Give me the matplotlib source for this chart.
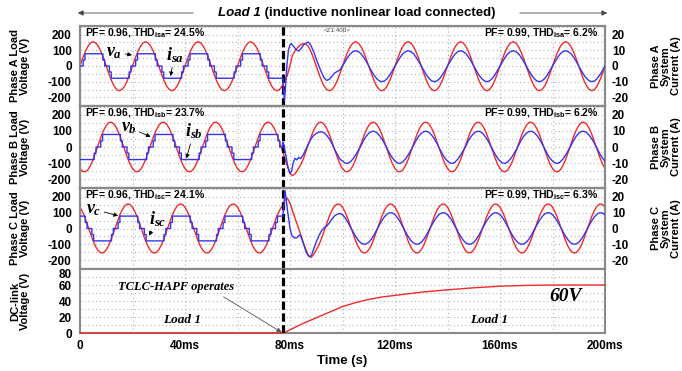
import numpy as np
import matplotlib
matplotlib.use("Agg")
import matplotlib.pyplot as plt
from matplotlib.ticker import MultipleLocator
from matplotlib.transforms import ScaledTranslation

plt.rcParams.update({
    "font.family": "Liberation Sans",
    "font.weight": "bold",
    "axes.unicode_minus": False,
    "mathtext.fontset": "custom",
    "mathtext.rm": "Liberation Sans:bold",
    "mathtext.bf": "Liberation Sans:bold",
    "mathtext.it": "Liberation Serif:italic:bold",
})

# ---------------- data (time in ms) ----------------
EVENT_MS = 77.5          # TCLC-HAPF switched on (dashed line)

# load voltages: one 50 Hz cycle sampled every 1 ms (V)
va_cycle = [0, 48, 91, 125, 147, 155, 147, 125, 91, 48, 0, -49, -93, -128, -150, -158, -150, -128, -93, -49]
vb_cycle = [-134, -152, -154, -142, -115, -78, -32, 16, 63, 104, 134, 152, 154, 142, 115, 78, 32, -16, -63, -104]
vc_cycle = [134, 104, 63, 16, -32, -78, -115, -142, -154, -152, -134, -104, -63, -16, 32, 78, 115, 142, 154, 152]

# voltages during the switching transient, 78..99 ms
va_trans = [-93, -60, 5, 70, 100, 120, 135, 142, 140, 125, 91, 48, 0, -49, -93, -128, -150, -158, -150, -128, -93, -49]
vb_trans = [-70, -120, -165, -178, -165, -140, -112, -78, -32, 16, 63, 104, 134, 152, 154, 142, 115, 78, 32, -16, -63, -104]
vc_trans = [175, 190, 160, 110, 60, 15, -35, -85, -130, -170, -182, -165, -134, -104, -63, -16, 32, 78, 115, 142, 154, 152]

# source currents before compensation: stepped waveform breakpoints in one cycle (ms, A)
isa_step_t = [0, 1.2, 1.9, 8.7, 9.4, 11.2, 11.9, 18.7, 19.4]
isa_step_v = [0, 3.8, 7.8, 3.8, 0, -3.8, -7.8, -3.8, 0]
isb_step_t = [0, 5.4, 6.1, 7.9, 8.6, 15.4, 16.1, 17.9, 18.6]
isb_step_v = [-7.8, -3.8, 0, 3.8, 7.8, 3.8, 0, -3.8, -7.8]
isc_step_t = [0, 2.0, 2.7, 4.5, 5.2, 12.0, 12.7, 14.5, 15.2]
isc_step_v = [7.8, 3.8, 0, -3.8, -7.8, -3.8, 0, 3.8, 7.8]

# source currents during the transient (ms, A)
isa_tr_t = [77.3, 77.6, 77.9, 78.3, 78.8, 79.4, 80.0, 80.6, 81.4, 82.3, 83.2, 84.2, 85.2, 86.2,
            87.0, 88.0, 89.0, 90.0, 91.0, 92.0, 93.0, 94.0, 95.0, 96.0, 97.0, 98.0, 99.0]
isa_tr_v = [-8.5, -15.0, -22.0, -13.0, 0.0, 10.0, 13.5, 14.2, 12.5, 10.5, 9.5, 11.0, 13.5, 14.8,
            15.2, 13.0, 9.0, 4.5, 0.0, -4.0, -7.5, -9.2, -8.5, -6.5, -4.5, -3.5, -2.5]
isb_tr_t = [77.3, 77.8, 78.5, 79.3, 80.0, 80.6, 81.2, 81.9, 82.6, 83.3, 84.0, 85.0, 86.0,
            87.0, 88.0, 89.0, 90.0, 91.0, 92.0, 93.0, 94.0, 95.0, 96.0, 97.0, 98.0, 99.0]
isb_tr_v = [3.0, 0.0, -6.0, -13.0, -16.5, -15.0, -10.0, -7.0, -8.0, -6.5, -7.2, -5.0, -1.5,
            2.0, 5.0, 7.2, 8.5, 9.2, 9.5, 8.8, 7.2, 5.0, 2.0, -1.5, -4.5, -7.5]
isc_tr_t = [77.3, 77.7, 78.1, 78.5, 79.0, 79.5, 80.0, 80.6, 81.3, 82.0, 82.7, 83.3, 83.9, 84.6, 85.4,
            86.2, 87.0, 87.6, 88.3, 89.0, 90.0, 91.0, 92.0, 93.0, 94.0, 95.0, 96.0, 97.0, 98.0, 99.0]
isc_tr_v = [8.5, 15.0, 24.0, 19.0, 12.0, 6.0, 0.0, -4.0, -5.5, -6.0, -5.8, -4.5, -4.0, -7.0, -11.0,
            -15.0, -17.2, -17.8, -16.5, -13.0, -8.5, -4.5, -1.5, 0.5, 1.5, 3.5, 6.0, 8.0, 9.0, 9.5]

# compensated source currents: one cycle every 1 ms from 100 ms on (A)
isa_post = [0.0, 2.8, 5.6, 7.8, 9.2, 9.7, 9.2, 7.9, 5.7, 3.0, 0.0, -3.0, -5.8, -8.0, -9.5, -10.0, -9.5, -8.0, -5.8, -3.0]
isb_post = [-8.8, -10.0, -10.2, -9.2, -7.4, -5.0, -2.2, 0.8, 4.0, 6.6, 8.5, 9.6, 9.8, 9.0, 7.3, 5.0, 2.2, -1.0, -4.2, -6.8]
isc_post = [8.7, 6.7, 4.1, 1.0, -2.1, -5.0, -7.4, -9.1, -9.9, -9.8, -8.7, -6.7, -4.1, -1.0, 2.1, 5.0, 7.4, 9.1, 9.9, 9.8]

# dc-link voltage
vdc_t = [0, 77.5, 80, 85, 90, 95, 100, 105, 110, 115, 120, 125, 130, 140, 150, 160, 170, 180, 190, 200]
vdc_v = [0, 0, 4, 12, 19, 26, 33, 38, 42, 45, 47, 49, 51, 54, 56.5, 58.5, 59.5, 60, 60, 60]

pf_left = ["PF= 0.96, THD$_{\\mathrm{isa}}$= 24.5%", "PF= 0.96, THD$_{\\mathrm{isb}}$= 23.7%", "PF= 0.96, THD$_{\\mathrm{isc}}$= 24.1%"]
pf_right = ["PF= 0.99, THD$_{\\mathrm{isa}}$= 6.2%", "PF= 0.99, THD$_{\\mathrm{isb}}$= 6.2%", "PF= 0.99, THD$_{\\mathrm{isc}}$= 6.3%"]
phases = ["A", "B", "C"]
x_ticks = [0, 40, 80, 120, 160, 200]
x_labels = ["0", "40ms", "80ms", "120ms", "160ms", "200ms"]

RED = "#f02a2a"
BLUE = "#3535f0"
FRAME = "#8a8a8a"


def voltage_series(cycle, trans):
    t = np.arange(0, 201)
    v = np.concatenate([np.tile(cycle, 4)[:78], trans, np.tile(cycle, 5), cycle[:1]])
    return t, v


def step_line(bt, bv, t_end, period=20.0):
    ts, vs = [], []
    c = 0
    while True:
        for t0, v in zip(bt, bv):
            t = t0 + c * period
            if t >= t_end:
                ts.append(t_end); vs.append(vs[-1])
                return ts, vs
            if ts:
                ts.append(t); vs.append(vs[-1])
            ts.append(t); vs.append(v)
        c += 1


def current_series(bt, bv, tr_t, tr_v, post):
    t1, v1 = step_line(bt, bv, tr_t[0])
    t = np.concatenate([t1, tr_t, np.arange(100, 201)])
    v = np.concatenate([v1, tr_v, np.tile(post, 5), post[:1]])
    return t, v


volts = [voltage_series(va_cycle, va_trans), voltage_series(vb_cycle, vb_trans),
         voltage_series(vc_cycle, vc_trans)]
currs = [current_series(isa_step_t, isa_step_v, isa_tr_t, isa_tr_v, isa_post),
         current_series(isb_step_t, isb_step_v, isb_tr_t, isb_tr_v, isb_post),
         current_series(isc_step_t, isc_step_v, isc_tr_t, isc_tr_v, isc_post)]

# ---------------- figure ----------------
fig = plt.figure(figsize=(6.82, 3.71), dpi=100)
L, W = 80 / 682, 525 / 682
bounds = [(26, 106), (106, 188), (188, 269), (269, 333)]


def rect(top, bot):
    return [L, 1 - bot / 371, W, (bot - top) / 371]


def style_axis(ax):
    for s in ax.spines.values():
        s.set_color(FRAME)
        s.set_linewidth(1.5)


def grid_axis(ax, ymin_step):
    ax.set_xlim(0, 200)
    ax.set_xticks(x_ticks)
    ax.xaxis.set_minor_locator(MultipleLocator(20))
    ax.yaxis.set_minor_locator(MultipleLocator(ymin_step))
    ax.grid(True, which="both", color="#b4b4b4", lw=0.8, ls=(0, (1, 2.5)))
    ax.set_axisbelow(True)
    ax.tick_params(which="both", length=0, labelsize=8.5, pad=6)
    ax.axvline(EVENT_MS, color="black", lw=2.3, dashes=(2.6, 1.1), zorder=5)


axes = []
for k in range(3):
    ax = fig.add_axes(rect(*bounds[k]))
    ax.set_ylim(-255, 255)
    ax.set_yticks([-200, -100, 0, 100, 200])
    grid_axis(ax, 50)
    ax.set_xticklabels([])
    style_axis(ax)
    t, v = volts[k]
    ax.plot(t, v, color=RED, lw=1.0, zorder=3)
    ax.set_ylabel("Phase %s Load\nVoltage (V)" % phases[k], fontsize=8, fontweight="bold", linespacing=1.0)
    ax.yaxis.set_label_coords(-0.095, 0.5)

    ax2 = ax.twinx()
    ax2.set_ylim(-25.5, 25.5)
    ax2.set_yticks([-20, -10, 0, 10, 20])
    ax2.tick_params(length=0, labelsize=8.5, pad=5)
    style_axis(ax2)
    t, c = currs[k]
    ax2.plot(t, c, color=BLUE, lw=1.0, zorder=4)
    ax2.set_ylabel("Phase %s\nSystem\nCurrent (A)" % phases[k], fontsize=8, fontweight="bold", linespacing=1.0)
    ax2.yaxis.set_label_coords(1.088, 0.5)

    ax.text(0.01, 0.915, pf_left[k], transform=ax.transAxes, fontsize=7.5, va="center", ha="left", zorder=6)
    ax.text(0.987, 0.915, pf_right[k], transform=ax.transAxes, fontsize=7.5, va="center", ha="right", zorder=6)
    axes.append((ax, ax2))

axes[0][0].text(0.489, 0.94, "<Z1:400>", transform=axes[0][0].transAxes, fontsize=4.5,
                fontweight="normal", color="#444444", ha="center", va="center")

arrow_kw = dict(arrowstyle="-|>", color="black", lw=0.6, mutation_scale=6, shrinkA=0, shrinkB=0)
labels = [(r"$v_a$", (13.1, 88), (19.8, 70), r"$i_{sa}$", (36.0, 72), (34.5, -65)),
          (r"$v_b$", (18.6, 120), (26.9, 64), r"$i_{sb}$", (43.4, 98), (40.5, -72)),
          (r"$v_c$", (5.3, 122), (14.5, 80), r"$i_{sc}$", (29.7, 62), (26.3, -45))]
for (ax, _), (vl, vpos, vtip, il, ipos, itip) in zip(axes, labels):
    ax.annotate(vl, xy=vtip, xytext=vpos, fontsize=13, ha="center", va="center",
                arrowprops=arrow_kw, zorder=7)
    ax.annotate(il, xy=itip, xytext=ipos, fontsize=13, ha="center", va="center",
                arrowprops=arrow_kw, zorder=7)

# dc-link panel
axd = fig.add_axes(rect(*bounds[3]))
axd.set_ylim(0, 80)
axd.set_yticks([0, 20, 40, 60, 80])
grid_axis(axd, 10)
axd.set_xticklabels(x_labels)
axd.tick_params(axis="x", pad=5)
style_axis(axd)
axd.plot(vdc_t, vdc_v, color=RED, lw=1.0, zorder=3, clip_on=False)
axd.set_ylabel("DC-link\nVoltage (V)", fontsize=8, fontweight="bold", linespacing=1.0)
axd.yaxis.set_label_coords(-0.095, 0.5)
axd.set_xlabel("Time (s)", fontsize=9.5, fontweight="bold", labelpad=2)

serif = dict(family="Liberation Serif", style="italic", weight="bold")
axd.annotate("TCLC-HAPF operates", xy=(76.8, 0.8), xytext=(36.6, 58), fontsize=9, ha="center", va="center",
             arrowprops=dict(arrowstyle="-|>", color="#555555", lw=0.6, mutation_scale=7,
                             shrinkA=2, shrinkB=0, relpos=(0.85, 0)), **serif)
axd.text(39, 16, "Load 1", fontsize=9.5, ha="center", va="center", **serif)
axd.text(156, 16, "Load 1", fontsize=9.5, ha="center", va="center", **serif)
axd.text(185, 46, "60V", fontsize=14, ha="center", va="center", **serif)

# nudge the top "80" label of the dc panel below the panel border
top_tick = axd.yaxis.get_major_ticks()[-1]
top_tick.label1.set_transform(top_tick.label1.get_transform()
                              + ScaledTranslation(0, -3.5 / 72, fig.dpi_scale_trans))

# title with arrows
ty = 1 - 13 / 371
t1 = fig.text(218 / 682, ty, "Load 1", fontsize=9.5, style="italic", ha="left", va="center")
fig.add_artist(plt.Annotation(" (inductive nonlinear load connected)", xy=(1, 0.5), xycoords=t1,
                              va="center", ha="left", fontsize=9.5))
arr = dict(arrowstyle="-|>", color="#444444", lw=0.6, mutation_scale=8)
fig.add_artist(plt.Annotation("", xy=(75 / 682, ty), xytext=(196 / 682, ty), xycoords="figure fraction",
                              arrowprops=arr))
fig.add_artist(plt.Annotation("", xy=(610 / 682, ty), xytext=(517 / 682, ty), xycoords="figure fraction",
                              arrowprops=arr))

fig.savefig("out.png", dpi=100, facecolor="white")
